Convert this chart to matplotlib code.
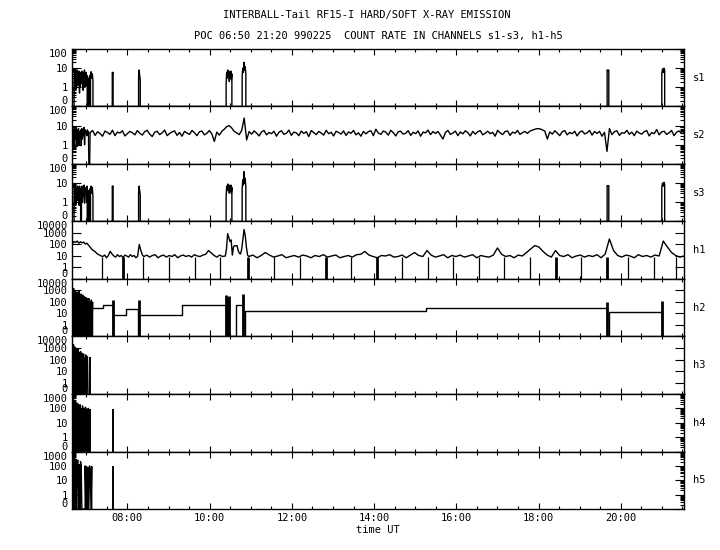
import numpy as np
import matplotlib
matplotlib.use("Agg")
import matplotlib.pyplot as plt
from matplotlib.ticker import FixedLocator, LogLocator, MultipleLocator, NullFormatter

plt.rcParams['font.family'] = ['DejaVu Sans Mono']
plt.rcParams['font.size'] = 7.5

# time axis in decimal hours UT
t_lo, t_hi = 6.65, 21.54
hour_ticks = [8, 10, 12, 14, 16, 18, 20]
hour_labels = ["08:00", "10:00", "12:00", "14:00", "16:00", "18:00", "20:00"]

channels = ["s1", "s2", "s3", "h1", "h2", "h3", "h4", "h5"]
y_top = [100, 100, 100, 10000, 10000, 10000, 1000, 1000]
ZERO = 0.1  # where a count of 0 sits on the log axis

# soft channels: bursts (t0, t1, counts), zero between them
s1_bursts = [
    (6.70, 7.02, [2, 6, 1, 7, 0.8, 5, 3, 8, 1.2, 6, 2, 7, 0.5, 5, 1, 6, 3, 7, 1.5, 5, 0.7, 6, 2, 8, 1, 5, 3, 6, 1.2, 4]),
    (7.05, 7.08, [3, 2, 4]),
    (7.10, 7.16, [4, 6.5, 3, 5, 2]),
    (7.63, 7.65, [6, 5.5, 6]),
    (8.27, 8.31, [3, 8, 4, 2.5]),
    (10.40, 10.54, [1.5, 6, 3, 8, 4, 7, 2, 6, 3, 7, 2.5, 5]),
    (10.79, 10.88, [4, 10, 6, 20, 8, 12, 5]),
    (19.67, 19.71, [8, 7.5, 8]),
    (21.00, 21.07, [5, 9, 6, 10, 8]),
]
s3_bursts = [
    (6.70, 6.86, [2, 7, 1, 8, 0.8, 5, 3, 7, 1.2, 6, 0.7, 7, 2, 5]),
    (6.88, 7.02, [3, 7, 1, 6, 2, 8, 0.9, 5, 3, 6, 1, 7]),
    (7.05, 7.08, [4, 2, 5]),
    (7.10, 7.16, [5, 7, 3, 6, 2]),
    (7.63, 7.65, [7, 6.5, 7]),
    (8.27, 8.31, [3, 7, 4, 2.5]),
    (10.40, 10.54, [2, 7, 4, 9, 5, 8, 3, 7, 4, 8, 3, 6]),
    (10.79, 10.88, [5, 15, 8, 40, 10, 18, 6]),
    (19.67, 19.71, [7.5, 7, 7.5]),
    (21.00, 21.07, [6, 10, 7, 11, 9]),
]

# s2: start block, dropout, then the continuous record
s2_start = (6.66, 7.05, [3, 6, 1, 7, 0.7, 5, 2, 8, 0.8, 6, 3, 7, 1, 5, 4, 6, 0.9, 7, 2, 5, 3, 8, 1, 6, 4, 5, 3, 6, 4, 5])
s2_gap = (7.06, 7.08, [0, 0])
s2_t0, s2_t1 = 7.09, 21.54
s2_vals = """
4.2 5.6 3.1 4.8 3.9 2.8 5.2 4.4 3.5 5.8 3.0 4.6 4.1 5.4 2.9 3.8 5.0 4.3 3.3 5.5
4.0 3.2 4.9 5.7 3.6 2.7 4.5 5.1 3.4 4.2 5.9 3.0 3.9 4.7 5.3 3.1 4.4 2.8 5.0 4.1
3.5 5.6 4.3 3.0 4.8 5.2 3.3 4.0 5.5 3.7 1.5 4.6 3.2 5.0 6.5 9.0 10.0 7.5 5.0 4.2
3.4 5.5 25.0 1.8 4.9 3.6 5.3 4.1 2.9 4.7 5.6 3.3 4.4 3.8 5.1 2.8 4.5 5.4 3.5 4.0
5.8 3.1 4.6 4.2 3.0 5.2 3.9 4.8 2.7 5.5 4.3 3.4 5.0 4.1 3.2 5.7 3.8 4.5 2.9 5.1
4.4 3.6 5.3 3.1 4.7 4.0 5.6 3.3 4.2 2.8 5.0 3.7 4.9 5.4 3.0 6.5 4.1 3.5 5.2 4.6
3.2 5.7 4.3 2.9 4.8 5.1 3.6 4.0 5.5 3.1 4.5 3.8 5.3 2.8 4.6 4.2 5.8 3.4 4.9 3.9
5.0 3.2 2.0 4.4 5.6 3.5 4.1 5.2 3.0 4.7 3.7 5.4 4.3 2.9 5.0 3.6 4.8 5.5 3.3 4.0
5.1 3.8 4.5 2.8 5.7 4.2 3.4 4.9 5.3 3.1 4.6 4.0 5.6 3.5 4.3 5.0 3.9 5.2 5.8 6.5
7.0 6.8 6.0 5.2 2.0 4.7 3.6 5.4 4.1 3.0 4.8 5.5 3.3 4.4 3.8 5.1 2.9 4.6 5.3 3.7
4.2 5.6 3.2 4.9 3.9 5.0 2.8 4.5 0.45 7.0 3.4 4.8 5.4 3.1 4.3 4.0 5.7 3.5 4.6 3.0
5.2 4.1 3.6 4.9 5.5 2.9 4.4 3.8 6.2 3.3 4.7 5.1 3.5 4.2 5.6 3.0 4.5 5.3 3.9 4.3
"""

# h1: continuous record, plus short dropouts to zero
h1_segments = [
    (6.66, 7.40, [120, 180, 150, 200, 130, 170, 140, 160, 110, 130, 90, 60, 40, 30, 25, 18, 14, 12, 10, 9]),
    (7.40, 8.25, [9, 12, 7, 11, 25, 15, 10, 8, 13, 9, 11, 7, 12, 10, 8, 13, 9, 11, 7, 10]),
    (8.25, 8.40, [12, 100, 30, 12, 9]),
    (8.40, 10.38, [9, 12, 8, 11, 13, 7, 10, 12, 8, 11, 9, 13, 7, 10, 12, 9, 11, 8, 13, 10,
                   9, 12, 14, 30, 18, 11, 8, 12, 9, 10]),
    (10.38, 10.95, [10, 40, 900, 400, 180, 250, 12, 60, 80, 75, 80, 30, 17, 15, 40, 300, 2000, 600, 60, 12, 9]),
]
h1_tail_t0, h1_tail_t1 = 10.95, 21.54
h1_tail = """
9 12 7 11 20 12 8 10 13 7 9 11 8 12 10 7 11 9 13 8
10 12 7 9 11 8 13 14 25 12 9 7 11 10 13 8 9 12 7 12
20 11 9 30 12 8 10 13 7 11 9 12 8 10 13 7 11 9 8 12
50 14 9 11 7 12 10 20 40 80 60 25 12 8 30 11 9 13 7 10
12 8 11 9 13 7 15 300 30 11 8 12 10 7 13 9 11 8 12 10
200 60 20 11 8 10
"""
h1_dips = [7.373, 8.385, 9.017, 9.650, 10.258, 11.572, 12.205, 13.446, 14.687,
           15.319, 15.927, 16.553, 17.168, 17.793, 19.034, 20.185, 20.818, 21.339]
h1_dips_thick = [7.884, 10.94, 12.830, 14.064, 18.419, 19.660]
h1_dip_level = 9

# h2: dense start, then a step record with spikes
h2_dense = (6.66, 7.15, [800, 0, 1500, 300, 0, 1000, 600, 0, 700, 0, 400, 900, 0, 300, 500, 0, 200,
                         400, 0, 300, 0, 150, 250, 0, 200, 0, 120, 200, 0, 100, 0, 150, 0, 100])
h2_step_t = [7.16, 7.397, 7.64, 7.65, 7.964, 8.256, 8.29, 9.334, 10.397, 10.463, 10.633, 10.818,
             10.86, 15.263, 19.66, 19.716, 21.012]
h2_step_v = [30, 55, 0, 7.4, 23, 0, 8, 55, 0, 0, 55, 0, 16.6, 28, 0, 14.4, 0]
h2_spike_t = [7.645, 8.27, 10.40, 10.43, 10.46, 10.82, 19.67, 21.01]
h2_spike_v = [150, 150, 400, 300, 350, 500, 107, 120]

# hard channels h3-h5: activity only in the first half hour
h3_dense = [(6.66, 7.04, [1500, 0, 2000, 700, 0, 1200, 300, 0, 900, 0, 600, 800, 0, 400, 0,
                          500, 250, 0, 350, 0, 200, 300, 0, 150, 0, 250, 0, 120, 180, 0])]
h3_spike_t = [7.10]
h3_spike_v = [160]
h4_dense = [(6.66, 7.05, [500, 0, 400, 200, 0, 300, 0, 250, 150, 0, 200, 0, 120, 180, 0,
                          100, 0, 150, 80, 0, 100, 0, 120, 60, 0, 90, 0, 100])]
h4_spike_t = [7.09, 7.64]
h4_spike_v = [91, 91]
h5_dense = [(6.66, 6.89, [400, 0, 600, 200, 0, 300, 0, 150, 250, 0, 120, 0, 200, 100, 0]),
            (6.97, 7.13, [100, 0, 90, 0, 80, 0, 100, 60, 0, 90])]
h5_spike_t = [7.64]
h5_spike_v = [98]


def series(segments, drop=True):
    ts, vs = [], []
    for t0, t1, vals in segments:
        tt = np.linspace(t0, t1, len(vals))
        if drop:
            ts.append(t0); vs.append(0)
        ts += list(tt); vs += list(vals)
        if drop:
            ts.append(t1); vs.append(0)
    return np.array(ts), np.maximum(np.array(vs, float), ZERO)


def parse(txt):
    return np.array(txt.split(), float)


fig, axes = plt.subplots(8, 1, figsize=(7.2, 5.5), dpi=100, sharex=True)
fig.subplots_adjust(left=0.1, right=0.95, bottom=0.0745, top=0.911, hspace=0)

line = dict(color='black', lw=1.0)

# s1, s3
for ax, bursts in [(axes[0], s1_bursts), (axes[2], s3_bursts)]:
    t, v = series(bursts)
    ax.plot(t, v, **line)

# s2
t, v = series([s2_start, s2_gap], drop=False)
ax = axes[1]
ax.plot(t, v, **line)
vals = parse(s2_vals)
ax.plot(np.linspace(s2_t0, s2_t1, len(vals)), vals, **line)
ax.plot([t[-1], s2_t0], [v[-1], vals[0]], **line)

# h1
ax = axes[3]
t, v = series(h1_segments, drop=False)
tail = parse(h1_tail)
t = np.concatenate([t, np.linspace(h1_tail_t0, h1_tail_t1, len(tail))])
v = np.concatenate([v, tail])
ax.plot(t, v, **line)
ax.vlines(h1_dips, ZERO, h1_dip_level, color='black', lw=0.9)
ax.vlines(h1_dips_thick, ZERO, h1_dip_level, color='black', lw=2.0)

# h2
ax = axes[4]
t, v = series([h2_dense])
ax.plot(t, v, **line)
ax.plot(h2_step_t, np.maximum(np.array(h2_step_v, float), ZERO), drawstyle='steps-post', **line)
ax.vlines(h2_spike_t, ZERO, h2_spike_v, color='black', lw=2.0)

# h3-h5
for ax, dense, st, sv in [(axes[5], h3_dense, h3_spike_t, h3_spike_v),
                          (axes[6], h4_dense, h4_spike_t, h4_spike_v),
                          (axes[7], h5_dense, h5_spike_t, h5_spike_v)]:
    t, v = series(dense)
    ax.plot(t, v, **line)
    ax.vlines(st, ZERO, sv, color='black', lw=1.4)

for ax, name, top in zip(axes, channels, y_top):
    ax.set_yscale('log')
    ax.set_ylim(ZERO, top)
    ndec = int(round(np.log10(top)))
    yt = [ZERO] + [10 ** k for k in range(ndec + 1)]
    ax.yaxis.set_major_locator(FixedLocator(yt))
    ax.set_yticklabels(['0'] + [str(10 ** k) for k in range(ndec + 1)])
    ax.yaxis.set_minor_locator(LogLocator(base=10, subs=np.arange(2, 10)))
    ax.yaxis.set_minor_formatter(NullFormatter())
    mt = ax.yaxis.get_major_ticks()
    mt[0].label1.set_va('bottom')
    mt[-1].label1.set_va('top')

    ax.set_xlim(t_lo, t_hi)
    ax.xaxis.set_major_locator(FixedLocator(hour_ticks))
    ax.xaxis.set_minor_locator(MultipleLocator(0.5))

    ax.tick_params(axis='y', which='major', direction='in', left=True, right=True,
                   length=6.5, width=0.8, labelsize=7.5, pad=3)
    ax.tick_params(axis='y', which='minor', direction='in', left=True, right=True,
                   length=3, width=0.8)
    ax.tick_params(axis='x', which='major', direction='in', top=True, bottom=True,
                   length=4, width=0.8, labelsize=7.5, pad=3)
    ax.tick_params(axis='x', which='minor', direction='in', top=True, bottom=True,
                   length=2.2, width=0.8)
    for s in ax.spines.values():
        s.set_linewidth(1.0)
    ax.text(1.015, 0.5, name, transform=ax.transAxes, ha='left', va='center', fontsize=7.5)

axes[-1].set_xticks(hour_ticks, hour_labels)
axes[-1].set_xlabel('time UT', fontsize=7.5, labelpad=1)

fig.text(0.51, 0.973, 'INTERBALL-Tail RF15-I HARD/SOFT X-RAY EMISSION', ha='center', va='center', fontsize=7.5)
fig.text(0.525, 0.934, 'POC 06:50 21:20 990225  COUNT RATE IN CHANNELS s1-s3, h1-h5',
         ha='center', va='center', fontsize=7.5)

fig.savefig('out.png', dpi=100)
